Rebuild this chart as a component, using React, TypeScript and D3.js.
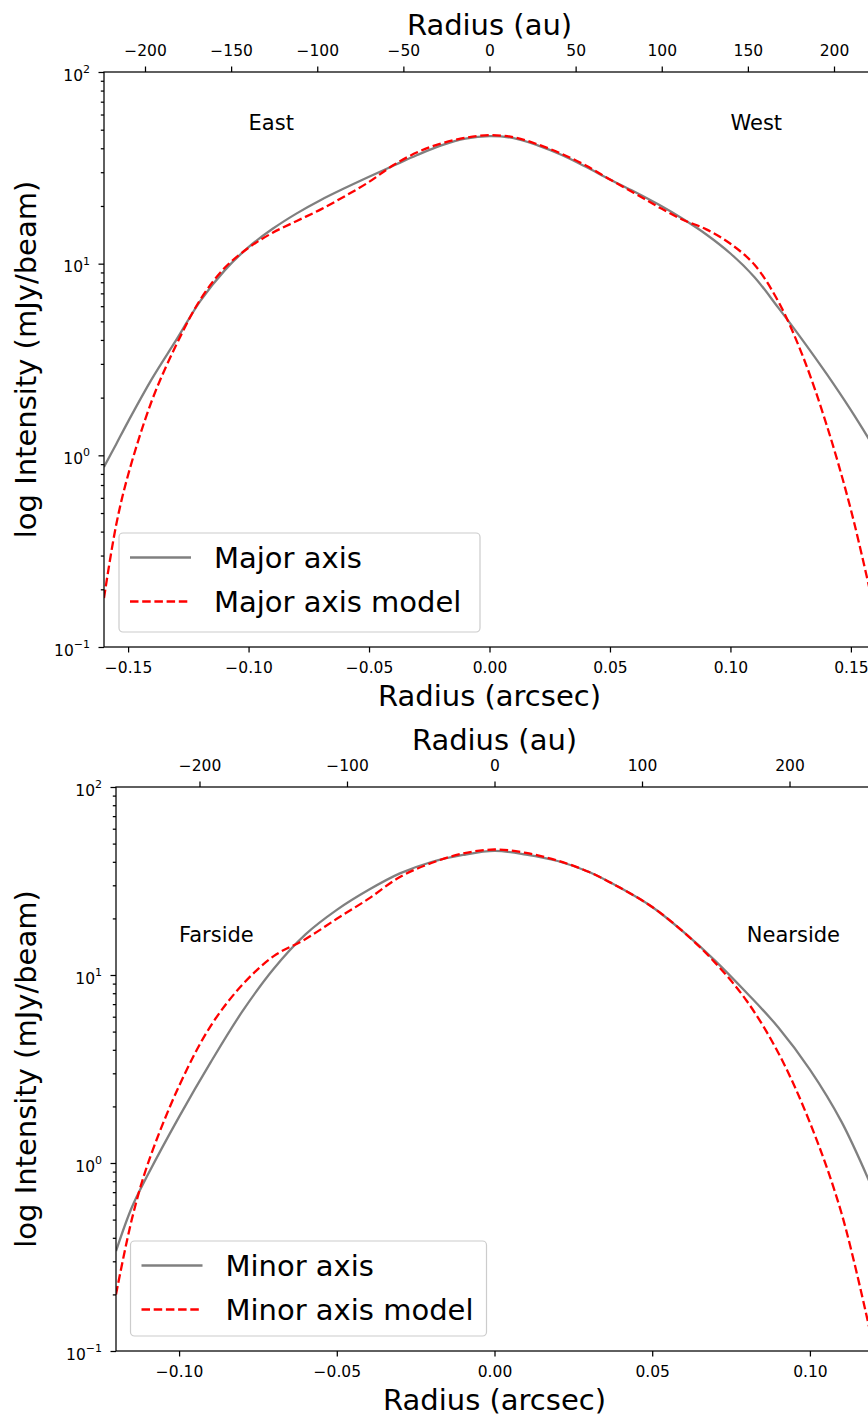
import React, { useRef, useEffect } from "react";
import * as d3 from "d3";

const width = 868;
const height = 1418;

// major axis cut: radius (arcsec) and intensity (mJy/beam)
const majorRadius = [
  -0.16, -0.155, -0.15, -0.14, -0.13, -0.12, -0.11, -0.1, -0.09, -0.08, -0.07, -0.06, -0.05, -0.04,
  -0.03, -0.02, -0.01, 0, 0.01, 0.02, 0.03, 0.04, 0.05, 0.06, 0.07, 0.08, 0.09, 0.1, 0.11, 0.12,
  0.13, 0.14, 0.15, 0.16,
];
const majorAxis = [
  0.87, 1.14, 1.5, 2.52, 4.0, 6.4, 9.2, 12.2, 15.2, 18.3, 21.5, 24.8, 28.4, 32.4, 36.9, 41.4,
  44.9, 46.3, 45.2, 41.4, 36.9, 32.0, 27.5, 23.8, 20.4, 17.2, 14.2, 11.3, 8.5, 5.86, 3.98, 2.65,
  1.72, 1.08,
];
const majorModel = [
  0.18, 0.43, 0.79, 1.95, 3.77, 6.5, 9.49, 12.1, 14.5, 16.7, 19.2, 22.5, 26.7, 32.6, 38.1, 42.4,
  45.4, 46.8, 45.7, 41.9, 37.4, 32.5, 27.5, 23.4, 19.8, 17.0, 15.1, 12.7, 9.86, 6.3, 3.3, 1.43,
  0.52, 0.15,
];

// minor axis cut
const minorRadius = [
  -0.12, -0.115, -0.11, -0.1, -0.09, -0.08, -0.07, -0.06, -0.05, -0.04, -0.03, -0.02, -0.01, 0,
  0.01, 0.02, 0.03, 0.04, 0.05, 0.06, 0.07, 0.08, 0.09, 0.1, 0.11, 0.12,
];
const minorAxis = [
  0.34, 0.58, 0.86, 1.76, 3.43, 6.38, 10.8, 16.4, 22.2, 28.3, 34.7, 39.9, 43.5, 45.7, 43.7, 40.4,
  35.3, 29.0, 23.0, 16.9, 11.9, 8.02, 5.26, 3.14, 1.66, 0.72,
];
const minorModel = [
  0.2, 0.5, 0.98, 2.57, 5.35, 8.85, 12.6, 15.5, 19.9, 25.4, 33.2, 39.4, 44.3, 46.5, 44.6, 40.6,
  35.3, 29.0, 23.0, 16.9, 11.6, 7.27, 3.85, 1.64, 0.542, 0.108,
];

const majorTicks = [-0.15, -0.1, -0.05, 0, 0.05, 0.1, 0.15];
const majorAuTicks = [-200, -150, -100, -50, 0, 50, 100, 150, 200];
const minorTicks = [-0.1, -0.05, 0, 0.05, 0.1];
const minorAuTicks = [-200, -100, 0, 100, 200];
const yTicks = [0.1, 1, 10, 100];
const yExponents = ["\u22121", "0", "1", "2"];

const majorLegend = ["Major axis", "Major axis model"];
const minorLegend = ["Minor axis", "Minor axis model"];
const majorSides = ["East", "West"];
const minorSides = ["Farside", "Nearside"];

const font = "DejaVu Sans, sans-serif";

const panels = [
  {
    id: "major",
    left: 104, right: 875, top: 72, bottom: 647,
    xDomain: [-0.16, 0.16], auDomain: [-223.8, 223.8],
    radius: majorRadius, obs: majorAxis, model: majorModel,
    xTicks: majorTicks, auTicks: majorAuTicks,
    legend: majorLegend, legendBox: [119, 533, 361, 99],
    sides: majorSides, sideX: [-0.1, 0.1], sideY: 50,
  },
  {
    id: "minor",
    left: 116, right: 873, top: 787, bottom: 1351,
    xDomain: [-0.12, 0.12], auDomain: [-256.6, 256.6],
    radius: minorRadius, obs: minorAxis, model: minorModel,
    xTicks: minorTicks, auTicks: minorAuTicks,
    legend: minorLegend, legendBox: [130.5, 1241, 356, 95],
    sides: minorSides, sideX: [-0.1, 0.08], sideY: 15,
  },
];

const styleAxis = (g) => {
  g.select(".domain").remove();
  g.selectAll("line").attr("stroke", "#000").attr("stroke-width", 1.25);
  g.selectAll("text")
    .attr("fill", "#000")
    .style("font-family", font)
    .style("font-size", "15.5px");
};

function drawPanel(svg, p) {
  const x = d3.scaleLinear().domain(p.xDomain).range([p.left, p.right]);
  const xAu = d3.scaleLinear().domain(p.auDomain).range([p.left, p.right]);
  const y = d3.scaleLog().domain([0.1, 100]).range([p.bottom, p.top]);
  const g = svg.append("g");

  g.append("clipPath")
    .attr("id", `clip-${p.id}`)
    .append("rect")
    .attr("x", p.left)
    .attr("y", p.top)
    .attr("width", p.right - p.left)
    .attr("height", p.bottom - p.top);

  const line = (xs) =>
    d3
      .line()
      .x((d, i) => x(xs[i]))
      .y((d) => y(d))
      .curve(d3.curveCatmullRom.alpha(0.5));

  const plot = g.append("g").attr("clip-path", `url(#clip-${p.id})`);
  plot
    .append("path")
    .datum(p.obs)
    .attr("d", line(p.radius))
    .attr("fill", "none")
    .attr("stroke", "#808080")
    .attr("stroke-width", 2.3);
  plot
    .append("path")
    .datum(p.model)
    .attr("d", line(p.radius))
    .attr("fill", "none")
    .attr("stroke", "#ff0000")
    .attr("stroke-width", 2.3)
    .attr("stroke-dasharray", "8.5,3.7");

  // axes
  g.append("g")
    .attr("transform", `translate(0,${p.bottom})`)
    .call(d3.axisBottom(x).tickValues(p.xTicks).tickFormat(d3.format(".2f")).tickSize(5.5).tickPadding(9.5))
    .call(styleAxis);
  g.append("g")
    .attr("transform", `translate(0,${p.top})`)
    .call(d3.axisTop(xAu).tickValues(p.auTicks).tickFormat(d3.format("d")).tickSize(5.5).tickPadding(10.5))
    .call(styleAxis);

  const minorY = y.ticks().filter((v) => !yTicks.some((t) => Math.abs(t - v) < 1e-9));
  g.append("g")
    .attr("transform", `translate(${p.left},0)`)
    .call(d3.axisLeft(y).tickValues(minorY).tickFormat(() => "").tickSize(3.2))
    .call(styleAxis);
  const yAxis = g
    .append("g")
    .attr("transform", `translate(${p.left},0)`)
    .call(d3.axisLeft(y).tickValues(yTicks).tickFormat(() => "").tickSize(5.5))
    .call(styleAxis);
  yAxis
    .selectAll(".tick text")
    .attr("x", -14)
    .attr("y", 8)
    .attr("dy", null)
    .attr("text-anchor", "end")
    .each(function (d, i) {
      const t = d3.select(this);
      t.append("tspan").text("10");
      t.append("tspan").attr("dy", -7.5).style("font-size", "11px").text(yExponents[i]);
    });

  // frame
  g.append("rect")
    .attr("x", p.left)
    .attr("y", p.top)
    .attr("width", p.right - p.left)
    .attr("height", p.bottom - p.top)
    .attr("fill", "none")
    .attr("stroke", "#000")
    .attr("stroke-width", 1.25);

  // axis titles
  const cx = (p.left + p.right) / 2;
  g.append("text")
    .attr("x", cx)
    .attr("y", p.top - 37)
    .attr("text-anchor", "middle")
    .style("font-family", font)
    .style("font-size", "29px")
    .text("Radius (au)");
  g.append("text")
    .attr("x", cx)
    .attr("y", p.bottom + 59)
    .attr("text-anchor", "middle")
    .style("font-family", font)
    .style("font-size", "29px")
    .text("Radius (arcsec)");
  g.append("text")
    .attr("transform", `translate(36,${(p.top + p.bottom) / 2}) rotate(-90)`)
    .attr("text-anchor", "middle")
    .style("font-family", font)
    .style("font-size", "29px")
    .text("log Intensity (mJy/beam)");

  // side annotations
  p.sides.forEach((s, i) => {
    g.append("text")
      .attr("x", x(p.sideX[i]))
      .attr("y", y(p.sideY))
      .style("font-family", font)
      .style("font-size", "21px")
      .text(s);
  });

  // legend
  const [lx, ly, lw, lh] = p.legendBox;
  const leg = g.append("g");
  leg.append("rect")
    .attr("x", lx)
    .attr("y", ly)
    .attr("width", lw)
    .attr("height", lh)
    .attr("rx", 4)
    .attr("fill", "white")
    .attr("fill-opacity", 0.8)
    .attr("stroke", "#cccccc")
    .attr("stroke-width", 1.2);
  const rows = [
    { y: ly + 24.5, stroke: "#808080", dash: null },
    { y: ly + 68.5, stroke: "#ff0000", dash: "8.5,3.7" },
  ];
  rows.forEach((r, i) => {
    leg.append("line")
      .attr("x1", lx + 11)
      .attr("x2", lx + 72)
      .attr("y1", r.y)
      .attr("y2", r.y)
      .attr("stroke", r.stroke)
      .attr("stroke-width", 2.3)
      .attr("stroke-dasharray", r.dash);
    leg.append("text")
      .attr("x", lx + 95)
      .attr("y", r.y + 10)
      .style("font-family", font)
      .style("font-size", "29px")
      .text(p.legend[i]);
  });
}

const App = () => {
  const ref = useRef(null);

  useEffect(() => {
    const svg = d3.select(ref.current);
    svg.selectAll("*").remove();
    panels.forEach((p) => drawPanel(svg, p));
  }, []);

  return (
    <svg
      ref={ref}
      width={width}
      height={height}
      style={{ position: "absolute", left: 0, top: 0, background: "white" }}
    />
  );
};

export default App;
